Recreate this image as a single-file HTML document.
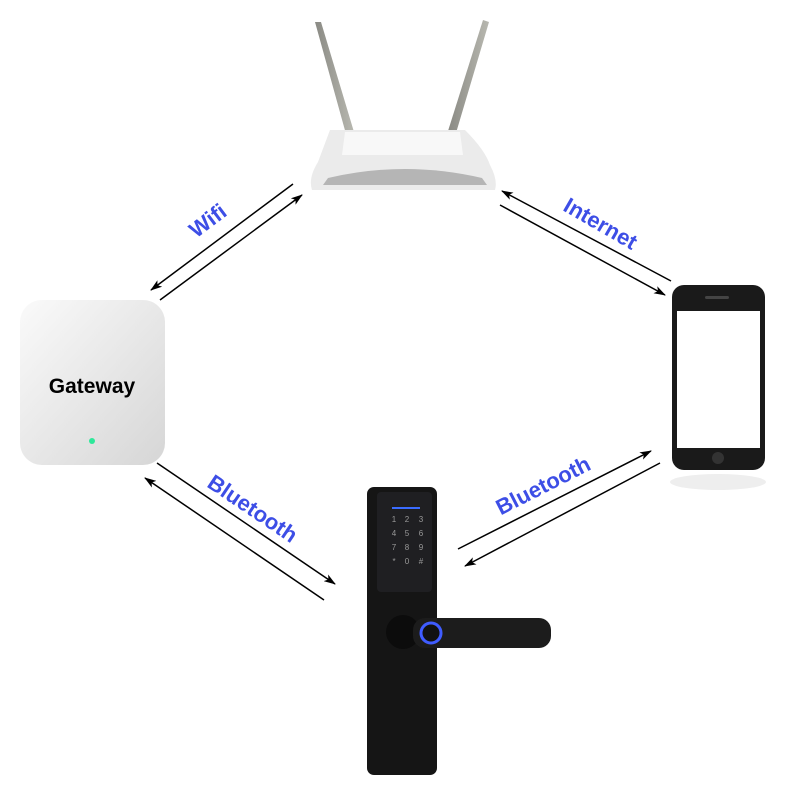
<!DOCTYPE html>
<html><head><style>
body{margin:0;width:800px;height:800px;background:#fff;overflow:hidden;font-family:"Liberation Sans",sans-serif}
.lb{position:absolute;color:#3d4ee6;font-weight:bold;font-size:22px;white-space:nowrap;transform-origin:center}
</style></head><body>
<svg width="800" height="800" style="position:absolute;left:0;top:0">
<defs>
<marker id="a" markerWidth="12" markerHeight="8" refX="11" refY="4" orient="auto" markerUnits="userSpaceOnUse"><path d="M0,0 L12,4 L0,8 L3,4 Z" fill="#000"/></marker>
<linearGradient id="ant" x1="0" x2="1"><stop offset="0" stop-color="#8a8a84"/><stop offset="1" stop-color="#b8b8b0"/></linearGradient>
<linearGradient id="gw" x1="0" y1="0" x2="1" y2="1"><stop offset="0" stop-color="#fafafa"/><stop offset="1" stop-color="#d6d6d6"/></linearGradient>
</defs>
<!-- router -->
<path d="M315,22 L321,22 L354,132 L346,134 Z" fill="url(#ant)"/>
<path d="M483,20 L489,22 L456,133 L448,131 Z" fill="url(#ant)"/>
<path d="M330,130 L465,130 Q485,150 490,165 Q498,180 495,190 L312,190 Q308,178 318,162 Z" fill="#ebebeb"/>
<path d="M345,132 L460,132 L463,155 L342,155 Z" fill="#f8f8f8"/>
<path d="M328,178 Q405,160 482,178 L487,185 L323,185 Z" fill="#b5b5b5"/>
<!-- gateway -->
<rect x="20" y="300" width="145" height="165" rx="22" fill="url(#gw)"/>
<text x="92" y="393" text-anchor="middle" font-weight="bold" font-size="21" font-family="Liberation Sans">Gateway</text>
<circle cx="92" cy="441" r="3" fill="#2ee89a"/>
<!-- phone -->
<rect x="672" y="285" width="93" height="185" rx="12" fill="#1a1a1a"/>
<rect x="677" y="311" width="83" height="137" fill="#fff"/>
<circle cx="718" cy="458" r="6" fill="#333"/>
<rect x="705" y="296" width="24" height="3" rx="1.5" fill="#444"/>
<ellipse cx="718" cy="482" rx="48" ry="8" fill="#eee"/>
<!-- lock -->
<rect x="367" y="487" width="70" height="288" rx="7" fill="#151515"/>
<rect x="377" y="492" width="55" height="100" rx="4" fill="#1f1f22"/>
<line x1="392" y1="508" x2="420" y2="508" stroke="#3a6cff" stroke-width="2"/>
<g fill="#999" font-size="8" font-family="Liberation Sans" text-anchor="middle">
<text x="394" y="522">1</text><text x="407" y="522">2</text><text x="421" y="522">3</text>
<text x="394" y="536">4</text><text x="407" y="536">5</text><text x="421" y="536">6</text>
<text x="394" y="550">7</text><text x="407" y="550">8</text><text x="421" y="550">9</text>
<text x="394" y="564">*</text><text x="407" y="564">0</text><text x="421" y="564">#</text></g>
<circle cx="403" cy="632" r="17" fill="#0c0c0c"/>
<rect x="413" y="618" width="138" height="30" rx="12" fill="#1c1c1c"/>
<circle cx="431" cy="633" r="10" fill="#111" stroke="#3f5cff" stroke-width="3"/>
<!-- arrows -->
<g stroke="#000" stroke-width="1.5">
<line x1="293" y1="184" x2="151" y2="290" marker-end="url(#a)"/>
<line x1="160" y1="300" x2="302" y2="195" marker-end="url(#a)"/>
<line x1="671" y1="281" x2="502" y2="191" marker-end="url(#a)"/>
<line x1="500" y1="205" x2="665" y2="295" marker-end="url(#a)"/>
<line x1="157" y1="463" x2="335" y2="584" marker-end="url(#a)"/>
<line x1="324" y1="600" x2="145" y2="478" marker-end="url(#a)"/>
<line x1="458" y1="549" x2="651" y2="451" marker-end="url(#a)"/>
<line x1="660" y1="463" x2="465" y2="566" marker-end="url(#a)"/>
</g>
</svg>
<div class="lb" style="left:188px;top:208px;transform:rotate(-37deg)">Wifi</div>
<div class="lb" style="left:560px;top:211px;transform:rotate(30deg)">Internet</div>
<div class="lb" style="left:201px;top:496px;transform:rotate(34deg)">Bluetooth</div>
<div class="lb" style="left:492px;top:473px;transform:rotate(-27deg)">Bluetooth</div>
</body></html>
